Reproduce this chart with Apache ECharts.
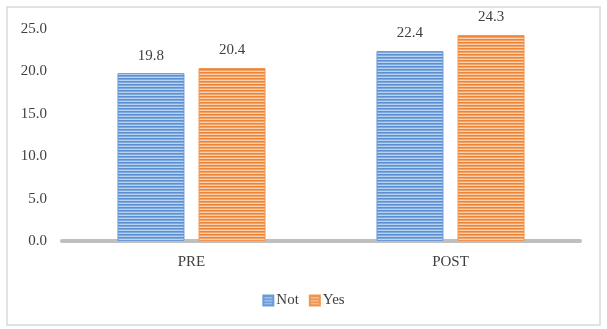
<!DOCTYPE html>
<html>
<head>
<meta charset="utf-8">
<script src="https://cdn.jsdelivr.net/npm/echarts@6/dist/echarts.min.js"></script>
<style>
html,body{margin:0;padding:0;background:#fff;}
#c{width:607px;height:329px;}
</style>
</head>
<body>
<div id="c"></div>
<script>
var categories = ['PRE', 'POST'];
var notValues = [19.8, 22.4];
var yesValues = [20.4, 24.3];
var seriesNames = ['Not', 'Yes'];

function stripe(dark, mid, light) {
  var c = document.createElement('canvas');
  c.width = 4; c.height = 3;
  var g = c.getContext('2d');
  g.fillStyle = dark; g.fillRect(0, 0, 4, 1);
  g.fillStyle = mid; g.fillRect(0, 1, 4, 1);
  g.fillStyle = light; g.fillRect(0, 2, 4, 1);
  return {image: c, repeat: 'repeat'};
}
var bluePat = stripe('#5b8fd2', '#7eaae0', '#b8d2f2');
var orangePat = stripe('#ec8436', '#f3a268', '#fbd0ac');

var font = '"Liberation Serif", "Times New Roman", serif';
var chart = echarts.init(document.getElementById('c'));
chart.setOption({
  animation: false,
  textStyle: {fontFamily: font},
  graphic: [{
    type: 'rect', shape: {x: 7, y: 7, width: 593, height: 318},
    style: {fill: null, stroke: '#d9d9d9', lineWidth: 1.5}, silent: true
  }],
  grid: {left: 62, right: 27, top: 29, bottom: 88},
  legend: {
    data: seriesNames, top: 288, left: 'center', icon: 'rect',
    itemWidth: 10, itemHeight: 10, itemGap: 10,
    textStyle: {fontFamily: font, fontSize: 15, color: '#404040', padding: [0, 0, 0, -2]}
  },
  xAxis: {
    type: 'category', data: categories,
    axisLine: {lineStyle: {color: '#bfbfbf', width: 4}},
    axisTick: {show: false},
    axisLabel: {fontFamily: font, fontSize: 15, color: '#404040', margin: 14}
  },
  yAxis: {
    type: 'value', min: 0, max: 25, interval: 5,
    axisLine: {show: false}, axisTick: {show: false}, splitLine: {show: false},
    axisLabel: {fontFamily: font, fontSize: 15, color: '#404040', margin: 15,
      formatter: function (v) { return v.toFixed(1); }}
  },
  series: [{
    name: 'Not', type: 'bar', data: notValues,
    barWidth: 67, barGap: '21%',
    itemStyle: {color: bluePat, borderColor: '#6b9bd6', borderWidth: 1},
    label: {show: true, position: 'top', distance: 10, fontFamily: font, fontSize: 15, color: '#404040',
      formatter: function (p) { return p.value.toFixed(1); }}
  }, {
    name: 'Yes', type: 'bar', data: yesValues,
    barWidth: 67, barGap: '21%',
    itemStyle: {color: orangePat, borderColor: '#f09550', borderWidth: 1},
    label: {show: true, position: 'top', distance: 10, fontFamily: font, fontSize: 15, color: '#404040',
      formatter: function (p) { return p.value.toFixed(1); }}
  }]
});
</script>
</body>
</html>
